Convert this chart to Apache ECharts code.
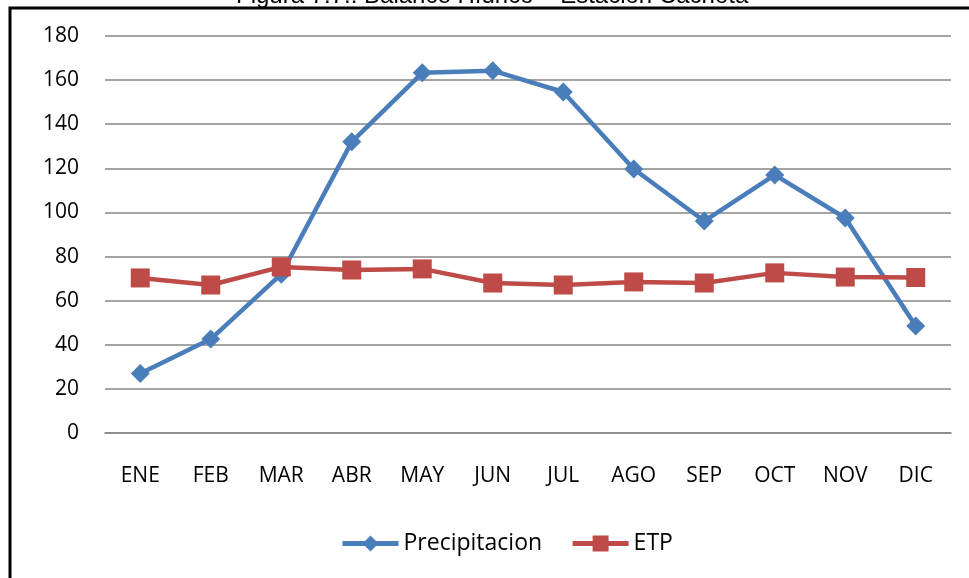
<!DOCTYPE html>
<html lang="es">
<head>
    <meta charset="UTF-8">
    <title>Balance Hidrico</title>
    <script src="https://cdn.jsdelivr.net/npm/echarts@6/dist/echarts.min.js"></script>
    <style type="text/css">
        html, body { margin: 0; padding: 0; background: #fff; }
    </style>
</head>
<body>

<div id="main" style="width: 969px;height:578px;"></div>

<script>
    // datos
    var meses = ['ENE', 'FEB', 'MAR', 'ABR', 'MAY', 'JUN', 'JUL', 'AGO', 'SEP', 'OCT', 'NOV', 'DIC'];
    var precipitacion = [27, 42.6, 72, 132, 163.3, 164.3, 154.6, 119.7, 96.1, 117, 97.5, 48.5];
    var etp = [70.3, 67.1, 75.3, 73.9, 74.4, 68, 67.1, 68.5, 68, 72.6, 70.7, 70.5];
    var ticksY = [0, 20, 40, 60, 80, 100, 120, 140, 160, 180];

    var fuente = '"Open Sans", "Noto Sans", sans-serif';

    var myChart = echarts.init(document.getElementById('main'));
    var option = {
        animation: false,
        backgroundColor: '#fff',
        graphic: [
            {
                type: 'text',
                left: 236,
                top: -16,
                style: {
                    text: 'Figura 7.7.: Balance Hídrico – Estación Cachota',
                    fontSize: 24,
                    fontFamily: '"Liberation Sans", Arial, sans-serif',
                    fill: '#000'
                }
            },
            {
                type: 'rect',
                shape: {x: 10, y: 8, width: 1100, height: 700},
                style: {fill: 'none', stroke: '#000', lineWidth: 3}
            }
        ],
        grid: {
            left: 105,
            right: 18,
            top: 36,
            bottom: 145
        },
        legend: {
            bottom: 18,
            left: 335,
            itemWidth: 56,
            itemHeight: 20,
            itemGap: 28,
            lineStyle: {width: 5},
            textStyle: {fontSize: 23, fontFamily: fuente, color: '#000'},
            data: ['Precipitacion', 'ETP']
        },
        xAxis: {
            type: 'category',
            data: meses,
            axisLine: {lineStyle: {color: '#868686', width: 1.5}},
            axisTick: {show: false},
            axisLabel: {margin: 33, fontSize: 21, fontFamily: fuente, color: '#000'}
        },
        yAxis: {
            type: 'value',
            min: ticksY[0],
            max: ticksY[ticksY.length - 1],
            interval: 20,
            axisLine: {show: false},
            axisTick: {show: false},
            splitLine: {lineStyle: {color: '#868686', width: 1.5}},
            axisLabel: {margin: 26, fontSize: 21, fontFamily: fuente, color: '#000'}
        },
        series: [
            {
                name: 'Precipitacion',
                type: 'line',
                data: precipitacion,
                symbol: 'diamond',
                symbolSize: 19,
                color: '#4A7EBB',
                lineStyle: {width: 4.5, color: '#4A7EBB'}
            },
            {
                name: 'ETP',
                type: 'line',
                data: etp,
                symbol: 'rect',
                symbolSize: 19,
                color: '#BE4B48',
                lineStyle: {width: 4.5, color: '#BE4B48'}
            }
        ]
    };
    myChart.setOption(option);
</script>

</body>
</html>
